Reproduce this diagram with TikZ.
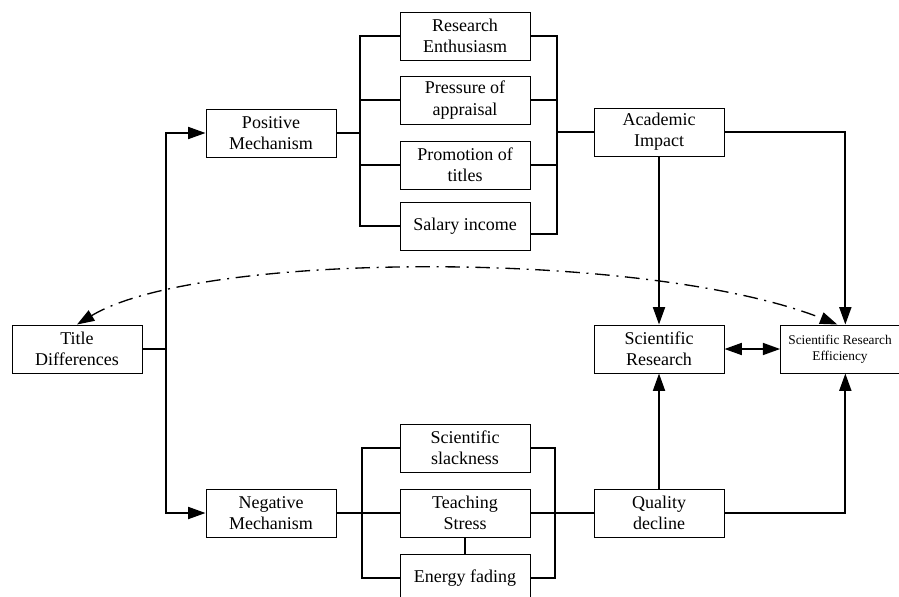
\documentclass[tikz,border=0pt]{standalone}
\usepackage{fontspec}
\setmainfont{Liberation Serif}
\usetikzlibrary{arrows.meta}

\begin{document}
\begin{tikzpicture}[>={Triangle[length=13pt,width=9pt]}, x=0.75pt, y=-0.75pt,
    box/.style={draw, line width=0.75pt, minimum width=97.5pt, minimum height=36pt,
        align=center, inner sep=1pt, font=\fontsize{13.5}{16}\selectfont},
    link/.style={line width=1.3pt},
    arr/.style={->, line width=1.3pt}]

    \useasboundingbox (0,0) rectangle (899,596);

    % --- Boxes ---
    \node[box] (title) at (77,349) {Title\\Differences};
    \node[box] (pos) at (271,133) {Positive\\Mechanism};
    \node[box] (neg) at (271,513) {Negative\\Mechanism};

    \node[box] (enth) at (465,36) {Research\\Enthusiasm};
    \node[box] (press) at (465,100) {Pressure of\\appraisal};
    \node[box] (promo) at (465,165) {Promotion of\\titles};
    \node[box] (salary) at (465,226) {Salary income};

    \node[box] (slack) at (465,448) {Scientific\\slackness};
    \node[box] (teach) at (465,513) {Teaching\\Stress};
    \node[box] (energy) at (465,578) {Energy fading};

    \node[box] (acad) at (659,132) {Academic\\Impact};
    \node[box] (sci) at (659,349) {Scientific\\Research};
    \node[box] (qual) at (659,513) {Quality\\decline};
    \node[box, minimum width=89pt, font=\fontsize{10}{12}\selectfont] (sre) at (840,349)
        {Scientific Research\\Efficiency};

    % --- Junctions ---
    \coordinate (trunk) at (166,349);
    \coordinate (pbl) at (360,133);
    \coordinate (pbr) at (557,132);
    \coordinate (nbl) at (362,513);
    \coordinate (nbr) at (555,513);

    % --- Title to mechanisms ---
    \draw[link] (title.east) -- (trunk);
    \draw[arr] (trunk) |- (pos.west);
    \draw[arr] (trunk) |- (neg.west);

    % --- Positive branch ---
    \draw[link] (pos.east) -- (pbl);
    \draw[link] (enth.west) -| (pbl) |- (salary.west);
    \draw[link] (press.west) -| (pbl);
    \draw[link] (promo.west) -| (pbl);
    \draw[link] (enth.east) -| (pbr) |- ([yshift=-6pt]salary.east);
    \draw[link] (press.east) -| (pbr);
    \draw[link] (promo.east) -| (pbr);
    \draw[link] (pbr) -- (acad.west);

    % --- Negative branch ---
    \draw[link] (neg.east) -- (nbl);
    \draw[link] (slack.west) -| (nbl) |- (energy.west);
    \draw[link] (nbl) -- (teach.west);
    \draw[link] (slack.east) -| (nbr) |- (energy.east);
    \draw[link] (teach.east) -- (qual.west);
    \draw[link] (teach.south) -- (energy.north);

    % --- Outcomes ---
    \draw[arr] (acad.south) -- (sci.north);
    \draw[arr] (acad.east) -| ([xshift=4pt]sre.north);
    \draw[arr] (qual.north) -- (sci.south);
    \draw[arr] (qual.east) -| ([xshift=4pt]sre.south);
    \draw[<->, line width=1.3pt] (sci) -- (sre);

    % --- Feedback (dash dot) ---
    \draw[<->, line width=1pt, dash pattern=on 11pt off 5pt on 1.5pt off 5pt]
        (title.north) .. controls (200,250) and (650,250) .. ([xshift=-2pt]sre.north);

\end{tikzpicture}
\end{document}
